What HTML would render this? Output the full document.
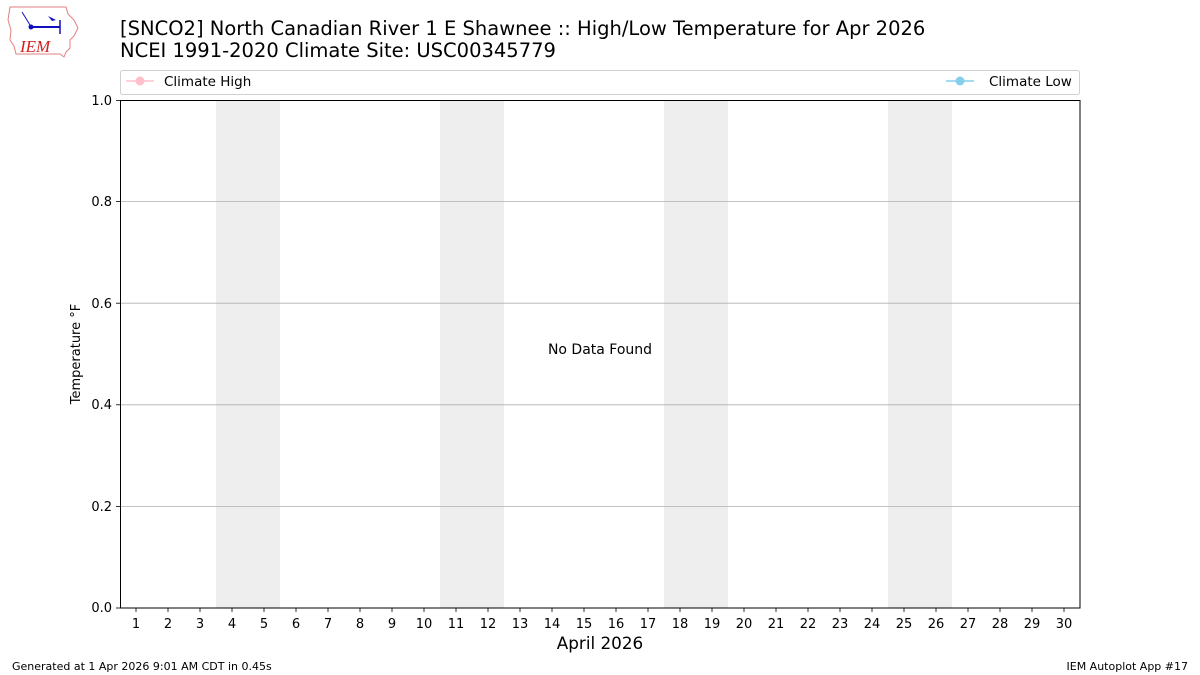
<!DOCTYPE html>
<html><head><meta charset="utf-8"><style>
html,body{margin:0;padding:0;background:#fff;}
svg{display:block;font-family:"DejaVu Sans","Liberation Sans",sans-serif;}
</style></head><body>
<svg width="1200" height="675" viewBox="0 0 1200 675" xmlns="http://www.w3.org/2000/svg">
<rect width="1200" height="675" fill="#fff"/>
<g>
<path d="M10,7 L66,7 L68,14 L74,20 L78,28 L74,36 L70,40 L70,48 L66,52 L64,57 L60,54 L16,54 L14,46 L10,40 L11,30 L8,20 Z" fill="none" stroke="#e08080" stroke-width="1"/>
<line x1="30" y1="27" x2="60" y2="27" stroke="#1010c0" stroke-width="2"/>
<circle cx="31" cy="27" r="2.5" fill="#1010c0"/>
<path d="M48,16 L56,20 L52,21 Z" fill="#1010c0"/>
<line x1="22" y1="12" x2="30" y2="25" stroke="#1010c0" stroke-width="1"/>
<line x1="60" y1="20" x2="60" y2="34" stroke="#1010c0" stroke-width="1.5"/>
<text x="20" y="52" font-family="Liberation Serif,serif" font-style="italic" font-size="17" fill="#d02020">IEM</text>
</g>
<text x="120" y="35" font-size="19.5" fill="#000">[SNCO2] North Canadian River 1 E Shawnee :: High/Low Temperature for Apr 2026</text>
<text x="120" y="57" font-size="19.5" fill="#000">NCEI 1991-2020 Climate Site: USC00345779</text>
<rect x="120.5" y="70.5" width="959" height="24" rx="2" fill="#fff" stroke="#d0d0d0"/>
<line x1="126" y1="81" x2="154" y2="81" stroke="pink" stroke-width="1.5"/>
<circle cx="140" cy="81" r="4.5" fill="pink"/>
<text x="164" y="86" font-size="13.5">Climate High</text>
<line x1="946" y1="81" x2="974" y2="81" stroke="skyblue" stroke-width="1.5"/>
<circle cx="960" cy="81" r="4.5" fill="skyblue"/>
<text x="989" y="86" font-size="13.5">Climate Low</text>
<rect x="216" y="100" width="64" height="508" fill="#eeeeee"/>
<rect x="440" y="100" width="64" height="508" fill="#eeeeee"/>
<rect x="664" y="100" width="64" height="508" fill="#eeeeee"/>
<rect x="888" y="100" width="64" height="508" fill="#eeeeee"/>
<g stroke="#b0b0b0" stroke-width="0.8">
<line x1="120" y1="201.6" x2="1080" y2="201.6"/>
<line x1="120" y1="303.2" x2="1080" y2="303.2"/>
<line x1="120" y1="404.8" x2="1080" y2="404.8"/>
<line x1="120" y1="506.4" x2="1080" y2="506.4"/>
</g>
<rect x="120.5" y="100.5" width="959.5" height="507.5" fill="none" stroke="#000" stroke-width="1"/>
<g stroke="#000" stroke-width="0.8">
<line x1="116" y1="100.5" x2="120" y2="100.5"/>
<line x1="116" y1="201.6" x2="120" y2="201.6"/>
<line x1="116" y1="303.2" x2="120" y2="303.2"/>
<line x1="116" y1="404.8" x2="120" y2="404.8"/>
<line x1="116" y1="506.4" x2="120" y2="506.4"/>
<line x1="116" y1="608" x2="120" y2="608"/>
</g>
<g font-size="13" text-anchor="end">
<text x="112" y="105">1.0</text>
<text x="112" y="206">0.8</text>
<text x="112" y="308">0.6</text>
<text x="112" y="409">0.4</text>
<text x="112" y="511">0.2</text>
<text x="112" y="612">0.0</text>
</g>
<text transform="translate(80,354) rotate(-90)" font-size="13" text-anchor="middle">Temperature °F</text>
<text x="600" y="354" font-size="14" text-anchor="middle">No Data Found</text>
<g stroke="#000" stroke-width="0.8">
<line x1="136" y1="608" x2="136" y2="612"/><line x1="168" y1="608" x2="168" y2="612"/><line x1="200" y1="608" x2="200" y2="612"/><line x1="232" y1="608" x2="232" y2="612"/><line x1="264" y1="608" x2="264" y2="612"/><line x1="296" y1="608" x2="296" y2="612"/><line x1="328" y1="608" x2="328" y2="612"/><line x1="360" y1="608" x2="360" y2="612"/><line x1="392" y1="608" x2="392" y2="612"/><line x1="424" y1="608" x2="424" y2="612"/><line x1="456" y1="608" x2="456" y2="612"/><line x1="488" y1="608" x2="488" y2="612"/><line x1="520" y1="608" x2="520" y2="612"/><line x1="552" y1="608" x2="552" y2="612"/><line x1="584" y1="608" x2="584" y2="612"/><line x1="616" y1="608" x2="616" y2="612"/><line x1="648" y1="608" x2="648" y2="612"/><line x1="680" y1="608" x2="680" y2="612"/><line x1="712" y1="608" x2="712" y2="612"/><line x1="744" y1="608" x2="744" y2="612"/><line x1="776" y1="608" x2="776" y2="612"/><line x1="808" y1="608" x2="808" y2="612"/><line x1="840" y1="608" x2="840" y2="612"/><line x1="872" y1="608" x2="872" y2="612"/><line x1="904" y1="608" x2="904" y2="612"/><line x1="936" y1="608" x2="936" y2="612"/><line x1="968" y1="608" x2="968" y2="612"/><line x1="1000" y1="608" x2="1000" y2="612"/><line x1="1032" y1="608" x2="1032" y2="612"/><line x1="1064" y1="608" x2="1064" y2="612"/>
</g>
<g font-size="13" text-anchor="middle">
<text x="136" y="628">1</text><text x="168" y="628">2</text><text x="200" y="628">3</text><text x="232" y="628">4</text><text x="264" y="628">5</text><text x="296" y="628">6</text><text x="328" y="628">7</text><text x="360" y="628">8</text><text x="392" y="628">9</text><text x="424" y="628">10</text><text x="456" y="628">11</text><text x="488" y="628">12</text><text x="520" y="628">13</text><text x="552" y="628">14</text><text x="584" y="628">15</text><text x="616" y="628">16</text><text x="648" y="628">17</text><text x="680" y="628">18</text><text x="712" y="628">19</text><text x="744" y="628">20</text><text x="776" y="628">21</text><text x="808" y="628">22</text><text x="840" y="628">23</text><text x="872" y="628">24</text><text x="904" y="628">25</text><text x="936" y="628">26</text><text x="968" y="628">27</text><text x="1000" y="628">28</text><text x="1032" y="628">29</text><text x="1064" y="628">30</text>
</g>
<text x="600" y="649" font-size="16.8" text-anchor="middle">April 2026</text>
<text x="12" y="670" font-size="11">Generated at 1 Apr 2026 9:01 AM CDT in 0.45s</text>
<text x="1188" y="670" font-size="11" text-anchor="end">IEM Autoplot App #17</text>
</svg>
</body></html>
